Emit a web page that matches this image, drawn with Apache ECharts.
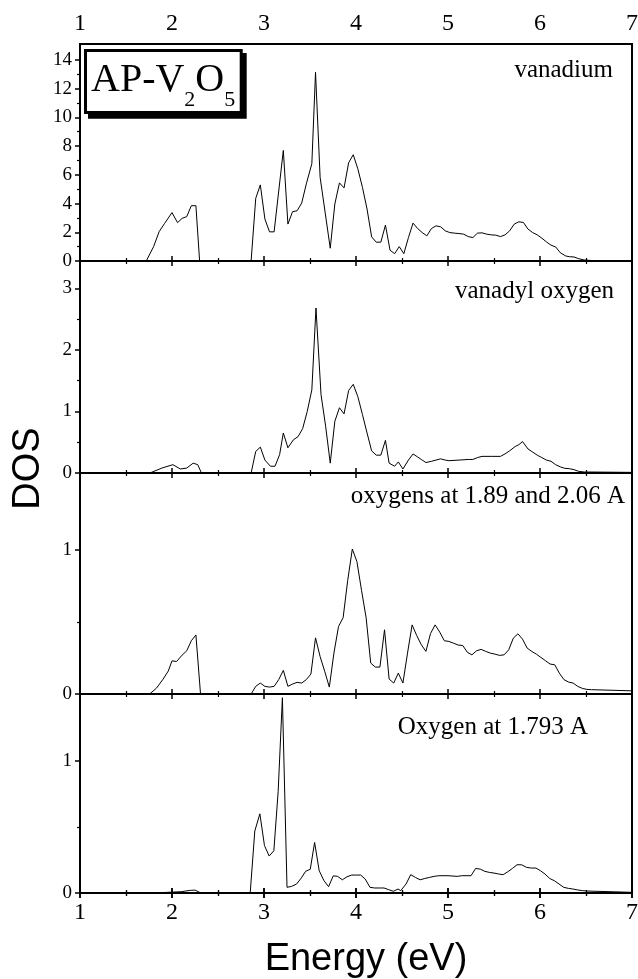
<!DOCTYPE html>
<html>
<head>
<meta charset="utf-8">
<title>AP-V2O5 DOS</title>
<script src="https://cdn.jsdelivr.net/npm/echarts@6/dist/echarts.min.js"></script>
<style>
  html, body { margin: 0; padding: 0; background: #fff; }
  #chart { width: 638px; height: 979px; }
</style>
</head>
<body>
<div id="chart"></div>
<script>
// Projected density of states, [energy (eV), DOS]
const vanadium = [
  [1.00,0],[1.72,0],[1.80,1.00],[1.86,2.04],[1.92,2.62],[2.00,3.37],[2.06,2.67],[2.11,2.97],
  [2.16,3.09],[2.21,3.85],[2.26,3.85],[2.30,0],[2.86,0],[2.91,4.36],[2.96,5.30],[3.01,2.92],
  [3.06,2.03],[3.11,2.03],[3.21,7.70],[3.26,2.57],[3.31,3.43],[3.36,3.50],[3.41,4.04],[3.46,5.37],
  [3.52,6.77],[3.56,13.14],[3.61,5.83],[3.72,0.89],[3.77,3.97],[3.82,5.44],[3.87,5.09],
  [3.92,6.84],[3.97,7.40],[4.02,6.42],[4.07,5.13],[4.12,3.62],[4.17,1.68],[4.22,1.31],[4.27,1.31],
  [4.32,2.50],[4.37,0.75],[4.42,0.51],[4.47,1.00],[4.52,0.51],[4.57,1.63],[4.62,2.64],[4.67,2.26],
  [4.72,1.98],[4.77,1.75],[4.82,2.26],[4.87,2.45],[4.92,2.38],[4.97,2.10],[5.02,1.98],[5.07,1.94],
  [5.12,1.91],[5.17,1.87],[5.22,1.70],[5.27,1.63],[5.32,1.94],[5.37,1.96],[5.42,1.87],[5.47,1.82],
  [5.52,1.80],[5.57,1.70],[5.62,1.82],[5.67,2.10],[5.72,2.57],[5.77,2.73],[5.82,2.68],[5.87,2.22],
  [5.92,1.98],[5.97,1.82],[6.02,1.59],[6.07,1.33],[6.12,1.10],[6.17,0.98],[6.22,0.58],[6.28,0.35],
  [6.32,0.30],[6.37,0.28],[6.42,0.16],[6.48,0.07],[6.53,0.05],[6.58,0.02],[7.00,0]
];
const vanadylOxygen = [
  [1.00,0],[1.76,0],[1.89,0.08],[2.01,0.135],[2.09,0.065],[2.16,0.08],[2.23,0.16],[2.28,0.135],
  [2.32,0],[2.86,0],[2.91,0.35],[2.96,0.42],[3.01,0.21],[3.07,0.11],[3.12,0.11],[3.17,0.30],
  [3.21,0.65],[3.26,0.41],[3.32,0.54],[3.37,0.59],[3.42,0.72],[3.47,1.00],[3.52,1.35],[3.565,2.68],
  [3.62,1.27],[3.67,0.76],[3.72,0.16],[3.77,0.84],[3.82,1.06],[3.87,0.96],[3.92,1.34],[3.97,1.44],
  [4.02,1.24],[4.07,0.95],[4.12,0.65],[4.17,0.36],[4.22,0.29],[4.27,0.29],[4.32,0.53],[4.36,0.16],
  [4.42,0.11],[4.46,0.18],[4.51,0.065],[4.57,0.21],[4.62,0.31],[4.67,0.26],[4.71,0.22],[4.76,0.17],
  [4.82,0.19],[4.87,0.21],[4.92,0.23],[4.97,0.21],[5.01,0.20],[5.12,0.21],[5.22,0.22],[5.27,0.22],
  [5.32,0.25],[5.37,0.27],[5.47,0.27],[5.57,0.27],[5.62,0.31],[5.67,0.36],[5.73,0.43],[5.77,0.46],
  [5.81,0.51],[5.87,0.39],[5.92,0.34],[5.97,0.29],[6.02,0.25],[6.07,0.21],[6.12,0.19],[6.17,0.135],
  [6.22,0.10],[6.27,0.076],[6.32,0.07],[6.37,0.054],[6.42,0.027],[6.48,0.016],[6.53,0.016],[7.00,0.01]
];
const equatorialOxygen = [
  [1.00,0],[1.757,0],[1.83,0.04],[1.90,0.10],[1.96,0.16],[2.00,0.23],[2.05,0.226],[2.11,0.27],
  [2.16,0.30],[2.21,0.37],[2.26,0.41],[2.31,0],[2.86,0],[2.91,0.053],[2.96,0.076],[3.01,0.053],
  [3.06,0.048],[3.11,0.053],[3.16,0.10],[3.21,0.164],[3.26,0.053],[3.31,0.069],[3.36,0.081],
  [3.41,0.076],[3.46,0.10],[3.51,0.139],[3.56,0.39],[3.61,0.26],[3.66,0.157],[3.71,0.048],
  [3.76,0.284],[3.81,0.469],[3.86,0.53],[3.91,0.79],[3.96,1.007],[4.01,0.92],[4.06,0.72],[4.11,0.53],
  [4.16,0.215],[4.21,0.187],[4.26,0.187],[4.31,0.446],[4.36,0.104],[4.41,0.076],[4.46,0.145],
  [4.51,0.076],[4.56,0.284],[4.61,0.48],[4.66,0.406],[4.71,0.342],[4.76,0.296],[4.81,0.42],
  [4.86,0.48],[4.91,0.43],[4.96,0.37],[5.01,0.365],[5.06,0.353],[5.11,0.34],[5.16,0.337],[5.21,0.29],
  [5.26,0.272],[5.31,0.30],[5.36,0.31],[5.41,0.296],[5.46,0.284],[5.51,0.277],[5.56,0.268],
  [5.61,0.272],[5.66,0.307],[5.71,0.388],[5.76,0.418],[5.81,0.381],[5.86,0.319],[5.91,0.296],
  [5.96,0.277],[6.01,0.254],[6.06,0.231],[6.11,0.208],[6.16,0.203],[6.21,0.145],[6.26,0.10],
  [6.31,0.083],[6.36,0.076],[6.41,0.053],[6.46,0.039],[6.51,0.032],[6.56,0.03],[7.00,0.022]
];
const apicalOxygen = [
  [1.00,0],[1.80,0],[1.95,0.005],[2.10,0.01],[2.20,0.02],[2.25,0.022],[2.30,0.005],[2.33,0],
  [2.85,0],[2.90,0.47],[2.955,0.60],[3.005,0.36],[3.056,0.28],[3.107,0.32],[3.154,0.77],[3.20,1.48],
  [3.25,0.043],[3.30,0.05],[3.354,0.068],[3.405,0.113],[3.452,0.164],[3.503,0.18],[3.55,0.383],
  [3.60,0.169],[3.652,0.093],[3.702,0.048],[3.753,0.13],[3.80,0.126],[3.851,0.10],[3.902,0.123],
  [3.953,0.136],[4.004,0.136],[4.051,0.136],[4.10,0.106],[4.152,0.043],[4.203,0.038],[4.254,0.038],
  [4.305,0.038],[4.356,0.025],[4.406,0.013],[4.457,0.03],[4.486,0.018],[4.544,0.068],[4.595,0.139],
  [4.646,0.118],[4.697,0.10],[4.748,0.11],[4.798,0.118],[4.849,0.126],[4.90,0.131],[5.00,0.131],
  [5.10,0.126],[5.15,0.131],[5.25,0.131],[5.30,0.186],[5.35,0.181],[5.40,0.164],[5.45,0.156],
  [5.50,0.151],[5.55,0.144],[5.60,0.139],[5.65,0.161],[5.70,0.186],[5.75,0.214],[5.80,0.214],
  [5.855,0.194],[5.906,0.189],[5.956,0.189],[6.004,0.169],[6.054,0.144],[6.105,0.11],[6.156,0.093],
  [6.207,0.068],[6.258,0.043],[6.309,0.035],[6.36,0.03],[6.41,0.023],[6.461,0.018],[6.512,0.015],
  [7.00,0.005]
];

// Tick values of the DOS axes
const vanadiumTicks = [0, 2, 4, 6, 8, 10, 12, 14];
const vanadiumMinor = [1, 3, 5, 7, 9, 11, 13];
const vanadylTicks = [0, 1, 2, 3];
const vanadylMinor = [0.5, 1.5, 2.5];
const equatorialTicks = [0, 1];
const equatorialMinor = [0.5];
const apicalTicks = [0, 1];
const apicalMinor = [0.5];

const panelLabels = ['vanadium', 'vanadyl oxygen', 'oxygens at 1.89 and 2.06 A', 'Oxygen at 1.793 A'];

const serif = 'Liberation Serif';
const sans = 'Liberation Sans';

const panels = [
  { data: vanadium,         ticks: vanadiumTicks,   minor: vanadiumMinor,   max: 15.11, top: 44,  bottom: 261, label: { right: 25, top: 58 } },
  { data: vanadylOxygen,    ticks: vanadylTicks,    minor: vanadylMinor,    max: 3.443, top: 261, bottom: 473, label: { right: 24, top: 279 } },
  { data: equatorialOxygen, ticks: equatorialTicks, minor: equatorialMinor, max: 1.535, top: 473, bottom: 694, label: { right: 13, top: 484 } },
  { data: apicalOxygen,     ticks: apicalTicks,     minor: apicalMinor,     max: 1.508, top: 694, bottom: 893, label: { right: 50, top: 715 } }
];

const grids = [], xAxes = [], yAxes = [], series = [], titles = [];

panels.forEach((p, i) => {
  grids.push({
    left: 80, right: 6, top: p.top, height: p.bottom - p.top,
    outerBoundsMode: 'none', containLabel: false,
    show: true, borderColor: '#000', borderWidth: 2, backgroundColor: 'transparent'
  });
  // inward ticks along the bottom and top edges of each panel
  ['bottom', 'top'].forEach(pos => {
    xAxes.push({
      gridIndex: i, type: 'value', position: pos, min: 1, max: 7, interval: 1,
      axisLine: { show: false }, axisLabel: { show: false }, splitLine: { show: false },
      axisTick: { show: true, inside: true, length: 5, lineStyle: { color: '#000', width: 1.5 } },
      minorTick: { show: true, splitNumber: 2, length: 3, lineStyle: { color: '#000', width: 1.2 } }
    });
  });
  // major ticks with labels
  yAxes.push({
    gridIndex: i, type: 'value', position: 'left', min: 0, max: p.max,
    axisLine: { show: false }, splitLine: { show: false },
    axisTick: { show: true, customValues: p.ticks, length: 5, lineStyle: { color: '#000', width: 1.5 } },
    axisLabel: { customValues: p.ticks, margin: 8, fontFamily: serif, fontSize: 19, color: '#000' }
  });
  // minor ticks
  yAxes.push({
    gridIndex: i, type: 'value', position: 'left', min: 0, max: p.max,
    axisLine: { show: false }, splitLine: { show: false }, axisLabel: { show: false },
    axisTick: { show: true, customValues: p.minor, length: 3, lineStyle: { color: '#000', width: 1.2 } }
  });
  series.push({
    type: 'line', xAxisIndex: 2 * i, yAxisIndex: 2 * i, data: p.data,
    showSymbol: false, symbol: 'none', clip: true,
    lineStyle: { color: '#000', width: 1 }
  });
  titles.push({
    text: panelLabels[i], right: p.label.right, top: p.label.top, padding: 0,
    textStyle: { fontFamily: serif, fontSize: 25, fontWeight: 'normal', color: '#000' }
  });
});

// outer frame: energy tick labels on top and bottom, shared axis titles
grids.push({ left: 80, right: 6, top: 44, bottom: 86, show: false, outerBoundsMode: 'none', containLabel: false });
const frameTick = { show: true, inside: false, length: 5, lineStyle: { color: '#000', width: 1.5 } };
const frameMinor = { show: true, splitNumber: 2, length: 3, lineStyle: { color: '#000', width: 1.2 } };
xAxes.push({
  gridIndex: 4, type: 'value', position: 'top', min: 1, max: 7, interval: 1,
  axisLine: { show: false }, splitLine: { show: false },
  axisTick: frameTick, minorTick: frameMinor,
  axisLabel: { margin: 8, fontFamily: serif, fontSize: 24, color: '#000', showMinLabel: true, showMaxLabel: true }
});
xAxes.push({
  gridIndex: 4, type: 'value', position: 'bottom', min: 1, max: 7, interval: 1,
  axisLine: { show: false }, splitLine: { show: false },
  axisTick: frameTick, minorTick: frameMinor,
  axisLabel: { margin: 8, fontFamily: serif, fontSize: 24, color: '#000', showMinLabel: true, showMaxLabel: true },
  name: 'Energy (eV)', nameLocation: 'middle', nameGap: 48,
  nameTextStyle: { fontFamily: sans, fontSize: 38, color: '#000', padding: [0, 0, 0, 20] }
});
yAxes.push({
  gridIndex: 4, type: 'value', position: 'left', min: 0, max: 1,
  axisLine: { show: false }, axisTick: { show: false }, axisLabel: { show: false }, splitLine: { show: false },
  name: 'DOS', nameLocation: 'middle', nameGap: 32,
  nameTextStyle: { fontFamily: sans, fontSize: 38, color: '#000' }
});

const chart = echarts.init(document.getElementById('chart'), null, { renderer: 'canvas' });
chart.setOption({
  backgroundColor: '#fff',
  animation: false,
  title: titles,
  grid: grids,
  xAxis: xAxes,
  yAxis: yAxes,
  series: series,
  graphic: [
    {
      type: 'group', z: 100,
      children: [
        { type: 'rect', shape: { x: 88, y: 53, width: 158.7, height: 65.7 }, style: { fill: '#000' } },
        { type: 'rect', shape: { x: 85.5, y: 50.5, width: 155.7, height: 62 }, style: { fill: '#fff', stroke: '#000', lineWidth: 3 } },
        {
          type: 'text', x: 91, y: 60,
          style: {
            text: '{n|AP-V}{s|2}{n|O}{s|5}',
            align: 'left', verticalAlign: 'top',
            rich: {
              n: { fontFamily: serif, fontSize: 40, lineHeight: 40, verticalAlign: 'top', fill: '#000' },
              s: { fontFamily: serif, fontSize: 22, lineHeight: 22, verticalAlign: 'top', padding: [29, 0, 0, 0], fill: '#000' }
            }
          }
        }
      ]
    }
  ]
});
</script>
</body>
</html>
